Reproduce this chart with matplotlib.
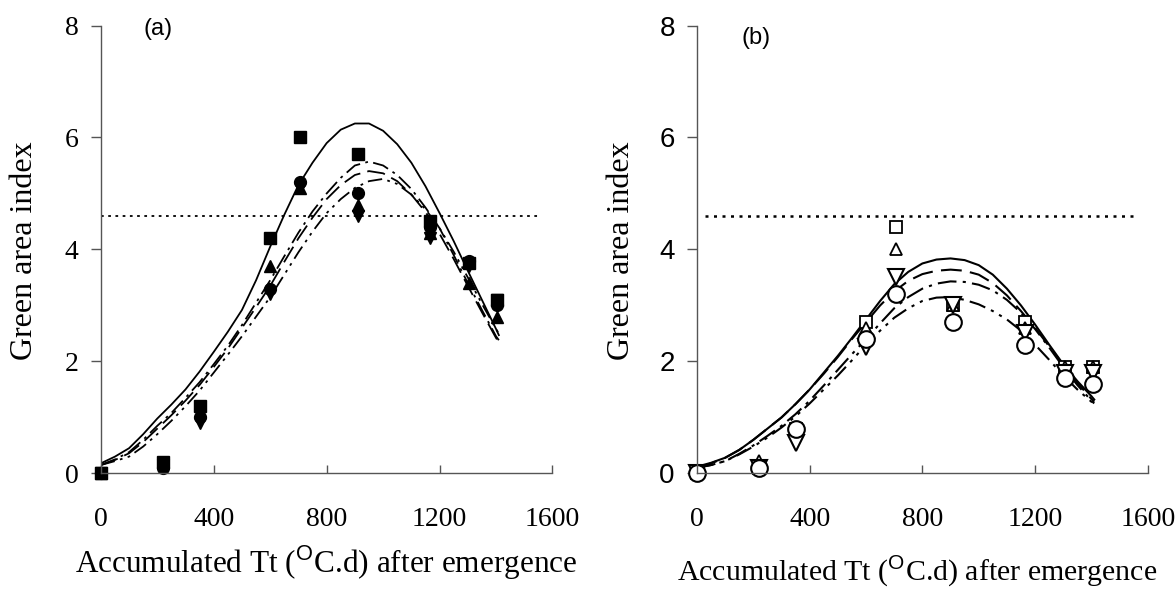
import matplotlib
matplotlib.use('Agg')
import matplotlib.pyplot as plt

plt.rcParams['font.family'] = 'Liberation Serif'
plt.rcParams['mathtext.fontset'] = 'custom'
plt.rcParams['mathtext.rm'] = 'Liberation Serif'
plt.rcParams['mathtext.sf'] = 'Liberation Sans'

# --- observed data (thermal time after emergence, oC.d) ---
tt_obs = [0, 220, 350, 600, 705, 910, 1165, 1305, 1405]

# panel (a), filled symbols
a_square = [0, 0.2, 1.2, 4.2, 6.0, 5.7, 4.5, 3.75, 3.1]
a_tri_up = [0, 0.2, 1.1, 3.7, 5.1, 4.8, 4.3, 3.4, 2.8]
a_tri_dn = [0, 0.15, 0.9, 3.2, 5.1, 4.6, 4.2, 3.7, 3.1]
a_circle = [0, 0.1, 1.0, 3.3, 5.2, 5.0, 4.4, 3.8, 3.0]

# panel (b), open symbols
b_square = [0, 0.1, 0.8, 2.7, 4.4, 3.0, 2.7, 1.9, 1.9]
b_tri_up = [0, 0.22, 0.8, 2.6, 4.0, 3.0, 2.6, 1.9, 1.9]
b_tri_dn = [0, 0.1, 0.55, 2.25, 3.5, 3.0, 2.5, 1.8, 1.8]
b_circle = [0, 0.1, 0.8, 2.4, 3.2, 2.7, 2.3, 1.7, 1.6]

# --- fitted curves, every 50 oC.d ---
tt_fit = [0, 50, 100, 150, 200, 250, 300, 350, 400, 450, 500, 550, 600, 650, 700,
          750, 800, 850, 900, 950, 1000, 1050, 1100, 1150, 1200, 1250, 1300, 1350,
          1400, 1410]

a_solid = [0.18, 0.3, 0.45, 0.7, 0.98, 1.23, 1.5, 1.82, 2.17, 2.53, 2.92, 3.45, 4.05,
           4.62, 5.15, 5.55, 5.9, 6.14, 6.25, 6.25, 6.12, 5.88, 5.55, 5.13, 4.65, 4.15,
           3.62, 3.1, 2.58, 2.47]
a_dashdot = [0.15, 0.25, 0.38, 0.6, 0.85, 1.08, 1.35, 1.63, 1.95, 2.28, 2.65, 3.05, 3.45,
             3.88, 4.3, 4.68, 5.0, 5.28, 5.5, 5.57, 5.5, 5.33, 5.08, 4.75, 4.38, 3.9,
             3.4, 2.92, 2.45, 2.38]
a_dash = [0.15, 0.24, 0.36, 0.56, 0.8, 1.04, 1.3, 1.58, 1.9, 2.23, 2.6, 2.97, 3.35,
          3.78, 4.2, 4.57, 4.9, 5.15, 5.33, 5.4, 5.36, 5.22, 4.98, 4.67, 4.28, 3.83,
          3.35, 2.88, 2.42, 2.34]
a_dashdotdot = [0.15, 0.22, 0.3, 0.48, 0.7, 0.94, 1.2, 1.48, 1.8, 2.12, 2.45, 2.8, 3.15,
                3.55, 3.95, 4.32, 4.65, 4.9, 5.1, 5.22, 5.26, 5.17, 4.98, 4.72, 4.38,
                3.96, 3.5, 3.03, 2.58, 2.5]

b_solid = [0.12, 0.19, 0.28, 0.42, 0.6, 0.8, 1.0, 1.24, 1.5, 1.8, 2.1, 2.42, 2.75, 3.08,
           3.38, 3.6, 3.75, 3.82, 3.84, 3.81, 3.72, 3.55, 3.3, 3.0, 2.66, 2.3, 1.95,
           1.65, 1.38, 1.32]
b_dash = [0.1, 0.18, 0.28, 0.42, 0.6, 0.8, 1.0, 1.24, 1.5, 1.78, 2.08, 2.4, 2.7, 3.0,
          3.25, 3.44, 3.56, 3.62, 3.64, 3.62, 3.55, 3.4, 3.18, 2.9, 2.6, 2.27, 1.94,
          1.62, 1.33, 1.28]
b_dashdot = [0.1, 0.15, 0.22, 0.35, 0.5, 0.67, 0.85, 1.06, 1.3, 1.57, 1.85, 2.13, 2.4,
             2.68, 2.95, 3.15, 3.3, 3.39, 3.43, 3.42, 3.37, 3.27, 3.1, 2.87, 2.58, 2.25,
             1.9, 1.58, 1.3, 1.25]
b_dashdotdot = [0.1, 0.15, 0.22, 0.34, 0.48, 0.64, 0.82, 1.02, 1.25, 1.5, 1.75, 2.02, 2.3,
                2.55, 2.78, 2.95, 3.08, 3.14, 3.15, 3.1, 3.02, 2.9, 2.75, 2.55, 2.3,
                2.03, 1.75, 1.5, 1.28, 1.24]

threshold = 4.6
yticks = [0, 2, 4, 6, 8]
xticks = [0, 400, 800, 1200, 1600]

xlab = r'Accumulated Tt ($^{\mathsf{O}}$C.d) after emergence'

fig = plt.figure(figsize=(11.75, 5.92), dpi=100)
axa = fig.add_axes([0.0858, 0.2003, 0.3844, 0.7566])
axb = fig.add_axes([0.5932, 0.2003, 0.3836, 0.7566])

ls_dashdot = (0, (9, 3, 1.5, 3))
ls_dash = (0, (10, 4))
ls_dashdotdot = (0, (8, 3, 1.5, 3, 1.5, 3))


def style_axes(ax, ytick_font):
    ax.set_xlim(0, 1600)
    ax.set_ylim(0, 8)
    ax.spines['top'].set_visible(False)
    ax.spines['right'].set_visible(False)
    for s in ['left', 'bottom']:
        ax.spines[s].set_color('#555555')
        ax.spines[s].set_linewidth(1.0)
    ax.set_xticks(xticks)
    ax.set_yticks(yticks)
    ax.tick_params(axis='x', direction='in', length=6, width=1, color='#555555',
                   pad=24, labelsize=20)
    ax.tick_params(axis='y', direction='out', length=7, width=1, color='#555555',
                   pad=9, labelsize=20)
    for t in ax.get_yticklabels():
        t.set_family(ytick_font)
    ax.set_ylabel('Green area index', fontsize=23)
    ax.yaxis.set_label_coords(-0.168, 0.497)
    ax.yaxis.label.set_va('center')


# panel (a)
axa.plot([0, 1560], [threshold, threshold], color='black', lw=1.3, ls=(0, (1.5, 2.5)))
axa.plot(tt_fit, a_solid, color='black', lw=1.3)
axa.plot(tt_fit, a_dashdot, color='black', lw=1.3, ls=ls_dashdot)
axa.plot(tt_fit, a_dash, color='black', lw=1.3, ls=ls_dash)
axa.plot(tt_fit, a_dashdotdot, color='black', lw=1.3, ls=ls_dashdotdot)
axa.plot(tt_obs, a_square, 's', color='black', ms=8, clip_on=False)
axa.plot(tt_obs, a_tri_up, '^', color='black', ms=8.5, clip_on=False)
axa.plot(tt_obs, a_tri_dn, 'v', color='black', ms=8.5, clip_on=False)
axa.plot(tt_obs, a_circle, 'o', color='black', ms=8.5, clip_on=False)
style_axes(axa, 'Liberation Serif')
axa.set_xlabel(xlab, fontsize=22.5)
axa.xaxis.set_label_coords(0.50, -0.200)
axa.xaxis.label.set_va('center')
axa.text(0.127, 0.993, '(a)', transform=axa.transAxes, ha='center', va='center',
         fontsize=17, family='Liberation Sans')

# panel (b)
axb.plot([30, 1565], [threshold, threshold], color='black', lw=1.8, ls=(0, (1.2, 2.2)))
axb.plot(tt_fit, b_solid, color='black', lw=1.5)
axb.plot(tt_fit, b_dash, color='black', lw=1.5, ls=ls_dash)
axb.plot(tt_fit, b_dashdot, color='black', lw=1.5, ls=ls_dashdot)
axb.plot(tt_fit, b_dashdotdot, color='black', lw=1.5, ls=ls_dashdotdot)
axb.plot(tt_obs, b_square, 's', mfc='white', mec='black', mew=1.3, ms=8, clip_on=False)
axb.plot(tt_obs, b_tri_up, '^', mfc='white', mec='black', mew=1.3, ms=9, clip_on=False)
axb.plot(tt_obs, b_tri_dn, 'v', mfc='white', mec='black', mew=1.5, ms=12, clip_on=False)
axb.plot(tt_obs, b_circle, 'o', mfc='white', mec='black', mew=1.5, ms=12, clip_on=False)
style_axes(axb, 'Liberation Sans')
axb.set_xlabel(xlab, fontsize=21.5)
axb.xaxis.set_label_coords(0.488, -0.218)
axb.xaxis.label.set_va('center')
axb.text(0.131, 0.972, '(b)', transform=axb.transAxes, ha='center', va='center',
         fontsize=17, family='Liberation Sans')

fig.savefig('out.png', dpi=100)
